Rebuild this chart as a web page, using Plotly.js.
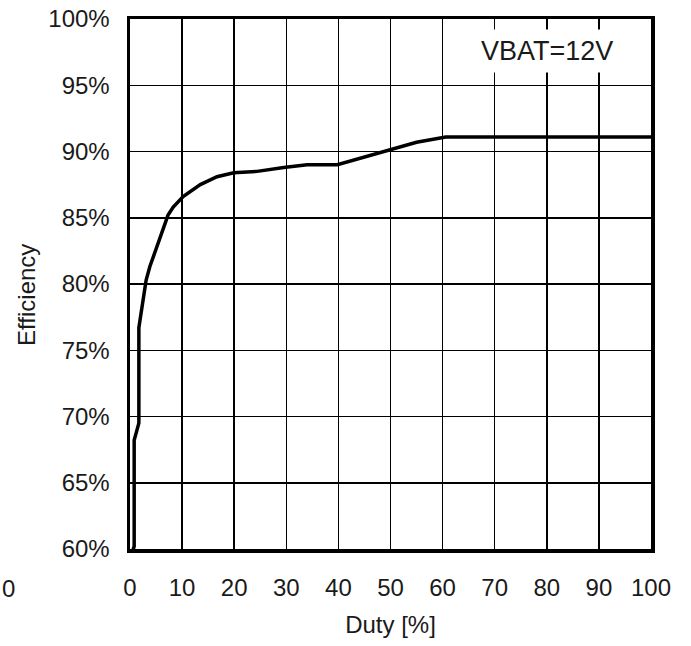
<!DOCTYPE html>
<html>
<head>
<meta charset="utf-8">
<script src="https://cdn.plot.ly/plotly-3.0.1.min.js"></script>
<style>html,body{margin:0;padding:0;background:#fff;}#chart{width:691px;height:646px;}</style>
</head>
<body>
<div id="chart"></div>
<script>
const duty = [0.3, 0.8, 0.8, 1.7, 1.7, 2.3, 3.1, 3.8, 5.4, 7.3, 8.3, 10.2, 13.5, 16.7, 19.9, 24.4, 29.5, 34, 39.8, 45, 50.3, 55, 60.6, 70, 80, 90, 100];
const efficiency = [59.6, 60.2, 68.2, 69.5, 76.7, 78.3, 80.3, 81.3, 83.1, 85.2, 85.8, 86.6, 87.5, 88.1, 88.4, 88.5, 88.8, 89.0, 89.0, 89.6, 90.2, 90.7, 91.1, 91.1, 91.1, 91.1, 91.1];
const xTicks = [0, 10, 20, 30, 40, 50, 60, 70, 80, 90, 100];
const yTicks = [60, 65, 70, 75, 80, 85, 90, 95, 100];
const annotationText = "VBAT=12V";
const xTitle = "Duty [%]";
const yTitle = "Efficiency";

const font = {family: "Liberation Sans, Arial, sans-serif", size: 24, color: "#1a1a1a"};

Plotly.newPlot("chart", [{
  x: duty, y: efficiency, type: "scatter", mode: "lines",
  line: {color: "#000", width: 3.5, shape: "linear"},
  hoverinfo: "skip", showlegend: false
}], {
  width: 691, height: 646,
  margin: {l: 130, r: 40, t: 19, b: 97},
  paper_bgcolor: "#fff", plot_bgcolor: "#fff",
  font: font,
  xaxis: {
    range: [0, 100], tickvals: xTicks, ticktext: xTicks.map(String),
    showgrid: true, gridcolor: "#000", gridwidth: 1.5,
    showline: true, linecolor: "#000", linewidth: 3.5, mirror: true,
    zeroline: false, ticks: "", ticklabelstandoff: 15,
    tickfont: font,
    title: {text: xTitle, font: font, standoff: 17}
  },
  yaxis: {
    range: [60, 100], tickvals: yTicks, ticktext: yTicks.map(v => v + "%"),
    showgrid: true, gridcolor: "#000", gridwidth: 1.5,
    showline: true, linecolor: "#000", linewidth: 3.5, mirror: true,
    zeroline: false, ticks: "", ticklabelstandoff: 12,
    tickfont: font
  },
  annotations: [
    {x: -0.2, y: 0.479, xref: "paper", yref: "paper", text: yTitle, textangle: -90,
     showarrow: false, xanchor: "center", yanchor: "middle", font: font},
    {x: 80, y: 97.6, xref: "x", yref: "y", text: annotationText, showarrow: false,
     bgcolor: "#fff", borderpad: 6, font: Object.assign({}, font, {size: 27})},
    {x: -0.234, y: 0, xref: "paper", yref: "paper", yshift: -39, text: "0", showarrow: false,
     xanchor: "center", yanchor: "middle", font: font}
  ]
}, {staticPlot: true});
</script>
</body>
</html>
